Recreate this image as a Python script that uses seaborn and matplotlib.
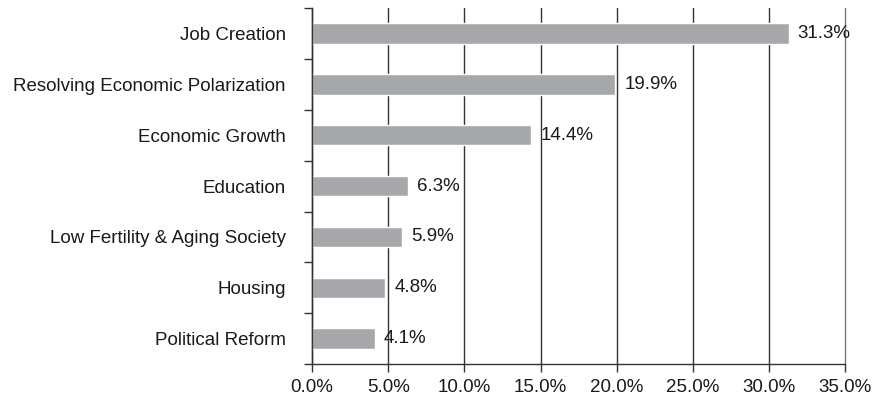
import seaborn as sns
import matplotlib.pyplot as plt
import pandas as pd
import numpy as np
from matplotlib.ticker import FixedLocator, FuncFormatter

categories = ['Job Creation', 'Resolving Economic Polarization', 'Economic Growth',
              'Education', 'Low Fertility & Aging Society', 'Housing', 'Political Reform']
values = [31.3, 19.9, 14.4, 6.3, 5.9, 4.8, 4.1]

df = pd.DataFrame({'issue': categories, 'share': values})

sns.set_style('white')
plt.rcParams['font.family'] = ['Liberation Sans', 'DejaVu Sans']

fig = plt.figure(figsize=(8.72, 4.09), dpi=100)
ax = fig.add_axes([0.358, 0.110, 0.611, 0.870])

sns.barplot(data=df, y='issue', x='share', orient='h', color='#a7a8ab',
            width=0.4, saturation=1, ax=ax)

ax.set_xlim(0, 35)
ax.set_ylim(len(categories) - 0.5, -0.5)
ax.set_xticks(np.arange(0, 36, 5))
ax.xaxis.set_major_formatter(FuncFormatter(lambda v, p: f'{v:.1f}%'))
ax.grid(axis='x', color='#333333', linewidth=1)
ax.set_axisbelow(True)
for gl in ax.get_xgridlines():
    gl.set_clip_on(False)
ax.get_xgridlines()[-1].set_color('#777777')

# category boundary ticks on y axis
ax.yaxis.set_minor_locator(FixedLocator(np.arange(-0.5, len(categories), 1)))
ax.tick_params(axis='y', which='major', length=0, pad=19, labelsize=13.5, labelcolor='#1a1a1a')
ax.tick_params(axis='y', which='minor', length=6, width=1, color='#333333', left=True)
ax.tick_params(axis='x', which='major', length=6, width=1, color='#333333', bottom=True,
               labelsize=13.5, labelcolor='#1a1a1a', pad=5)

for side in ['top', 'right']:
    ax.spines[side].set_visible(False)
for side in ['left', 'bottom']:
    ax.spines[side].set_color('#333333')
    ax.spines[side].set_linewidth(1)

for i, v in enumerate(values):
    ax.text(v + 0.6, i, f'{v}%', va='center', ha='left', fontsize=13.5, color='#1a1a1a')

ax.set_xlabel('')
ax.set_ylabel('')

fig.savefig('out.png', dpi=100)
